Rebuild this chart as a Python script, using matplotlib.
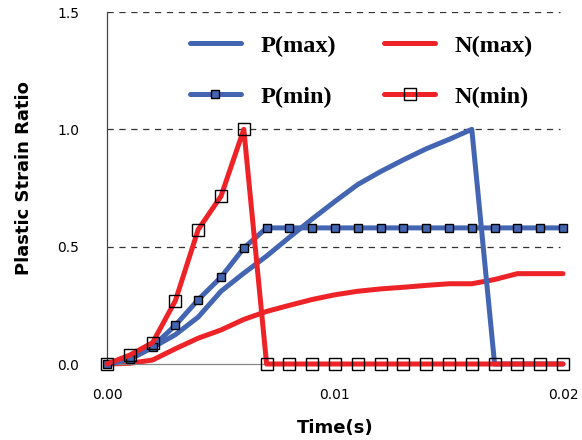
import matplotlib
matplotlib.use("Agg")
import matplotlib.pyplot as plt
from matplotlib.ticker import FixedLocator

time = [0.000, 0.001, 0.002, 0.003, 0.004, 0.005, 0.006, 0.007, 0.008, 0.009, 0.010,
        0.011, 0.012, 0.013, 0.014, 0.015, 0.016, 0.017, 0.018, 0.019, 0.020]
p_max = [0.0, 0.02, 0.07, 0.125, 0.20, 0.31, 0.387, 0.46, 0.54, 0.618, 0.693,
         0.765, 0.82, 0.87, 0.917, 0.957, 1.0, 0.0, 0.0, 0.0, 0.0]
p_min = [0.0, 0.02, 0.074, 0.165, 0.274, 0.37, 0.494, 0.58, 0.58, 0.58, 0.58,
         0.58, 0.58, 0.58, 0.58, 0.58, 0.58, 0.58, 0.58, 0.58, 0.58]
n_max = [0.0, 0.003, 0.017, 0.065, 0.11, 0.145, 0.19, 0.224, 0.25, 0.275, 0.295,
         0.31, 0.32, 0.327, 0.335, 0.342, 0.342, 0.36, 0.385, 0.385, 0.385]
n_min = [0.0, 0.038, 0.091, 0.27, 0.573, 0.715, 1.0, 0.0, 0.0, 0.0, 0.0,
         0.0, 0.0, 0.0, 0.0, 0.0, 0.0, 0.0, 0.0, 0.0, 0.0]

x_ticks = [0.00, 0.01, 0.02]
x_tick_labels = ["0.00", "0.01", "0.02"]
y_ticks = [0.0, 0.5, 1.0, 1.5]
y_tick_labels = ["0.0", "0.5", "1.0", "1.5"]

BLUE = "#4466B2"
RED = "#EE2328"

fig = plt.figure(figsize=(5.82, 4.40), dpi=100)
ax = fig.add_axes([107/582, 1-364/440, (563-107)/582, (364-12)/440])

lw = 3.6
l1, = ax.plot(time, p_max, color=BLUE, lw=lw, label="P(max)", zorder=3, clip_on=False,
              solid_capstyle="round")
l2, = ax.plot(time, p_min, color=BLUE, lw=lw, marker="s", markersize=5.3,
              markerfacecolor=BLUE, markeredgecolor="black", markeredgewidth=1.0,
              label="P(min)", zorder=4, clip_on=False, solid_capstyle="round")
l3, = ax.plot(time, n_max, color=RED, lw=lw, label="N(max)", zorder=2, clip_on=False,
              solid_capstyle="round")
l4, = ax.plot(time, n_min, color=RED, lw=lw, marker="s", markersize=8.6,
              markerfacecolor="none", markeredgecolor="black", markeredgewidth=1.0,
              label="N(min)", zorder=5, clip_on=False, solid_capstyle="round")

ax.set_xlim(0, 0.02)
ax.set_ylim(0, 1.5)
ax.xaxis.set_major_locator(FixedLocator(x_ticks))
ax.set_xticklabels(x_tick_labels)
ax.yaxis.set_major_locator(FixedLocator(y_ticks))
ax.set_yticklabels(y_tick_labels)

for s in ["top", "right"]:
    ax.spines[s].set_visible(False)
ax.spines["left"].set_color("#444444")
ax.spines["left"].set_linewidth(0.9)
ax.spines["bottom"].set_color("#888888")
ax.spines["bottom"].set_linewidth(0.9)

ax.tick_params(axis="both", length=0, labelsize=10)
ax.tick_params(axis="y", pad=20)
ax.tick_params(axis="x", pad=17)

for yv in y_ticks[1:]:
    ax.axhline(yv, xmin=0, xmax=(560-107)/456, color="#333333", lw=0.9,
               dashes=(5, 4.5), zorder=1)

ax.set_xlabel("Time(s)", fontsize=13, fontweight="bold")
ax.xaxis.set_label_coords(0.5, -(428-364)/352 - 0.0, transform=ax.transAxes)
ax.xaxis.label.set_va("center")
ax.set_ylabel("Plastic Strain Ratio", fontsize=13, fontweight="bold")
ax.yaxis.set_label_coords(-(107-24)/456, (364-178)/352, transform=ax.transAxes)
ax.yaxis.label.set_va("center")

leg = fig.legend(handles=[l1, l2, l3, l4], ncol=2, frameon=False,
                 loc="upper left", bbox_to_anchor=(180/582, 1-25/440),
                 prop={"family": "Liberation Serif", "weight": "bold", "size": 17.5},
                 handlelength=2.1, handletextpad=0.8, columnspacing=2.0,
                 labelspacing=1.2, numpoints=1, borderaxespad=0)

fig.savefig("out.png", dpi=100)
